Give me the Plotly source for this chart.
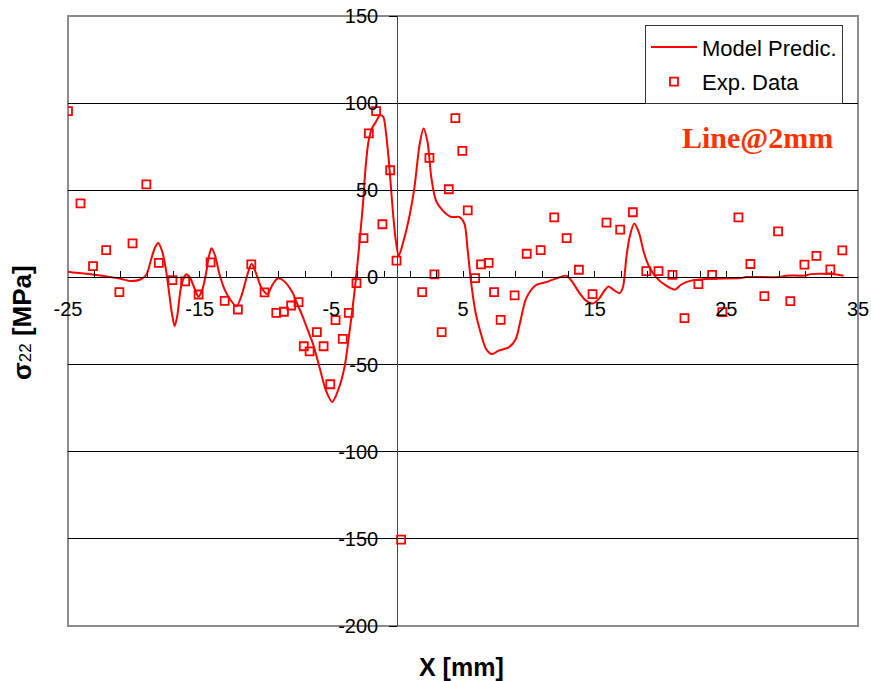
import plotly.graph_objects as go

# Model prediction of sigma_22 along the line 2 mm from the surface
MODEL_X = [-25.4, -25.0, -23.0, -21.0, -20.2, -19.5, -19.05, -18.7, -18.4, -18.15,
           -17.85, -17.55, -17.3, -17.1, -16.9, -16.7, -16.45, -16.2, -16.0, -15.75,
           -15.35, -15.1, -14.8, -14.5, -14.3, -14.1, -13.85, -13.5, -13.1, -12.7,
           -12.2, -11.8, -11.4, -11.05, -10.75, -10.3, -9.85, -9.45, -9.05, -8.6,
           -8.0, -7.6, -7.2, -6.8, -6.4, -5.9, -5.4, -4.93, -4.5, -4.0,
           -3.65, -3.3, -3.0, -2.8, -2.6, -2.4, -2.2, -1.95, -1.6, -1.3,
           -1.05, -0.85, -0.6, -0.35, -0.1, 0.12, 0.45, 0.9, 1.3, 1.7,
           2.0, 2.3, 2.6, 2.95, 3.45, 4.1, 4.7, 5.1, 5.35, 5.6,
           5.95, 6.35, 6.75, 7.2, 7.7, 8.5, 9.0, 9.3, 9.8, 10.5,
           11.3, 12.05, 12.85, 13.3, 13.8, 14.3, 14.85, 15.35, 15.75, 16.05,
           16.5, 16.9, 17.15, 17.4, 17.65, 18.0, 18.35, 18.75, 19.15, 19.65,
           20.4, 21.1, 21.55, 22.4, 23.7, 26.1, 26.5, 29.0, 29.5, 31.0,
           31.4, 33.0, 33.9]
MODEL_Y = [4.0, 3.3, 1.5, -0.8, -2.1, -1.2, 1.5, 10, 17, 19.8,
           15, 4, -10, -21, -28, -22, -7, 0, 1.8, 0,
           -7, -11, -7, 3, 12, 16.8, 13, 2, -7, -12.5,
           -16.5, -10, 1, 7.8, 3, -6, -9.5, -4, -0.5, -2,
           -8, -15, -22, -30, -38, -51.5, -65, -71.5, -65, -51.5,
           -33, -12, 9, 25, 42, 63, 77, 85, 89.5, 93,
           92, 83, 64, 40, 21, 12.5, 20, 34, 51, 76,
           85.5, 78, 57, 44, 38.5, 34.7, 34.7, 31, 16, -2,
           -20, -32, -41, -44, -42, -40, -35.5, -27, -12, -4.6,
           -2.7, -0.7, 1.0, -2.5, -8.4, -13, -15, -12, -7.5, -5.2,
           -7.5, -9, -5.5, 11, 23, 31, 26, 14, 6, 0.2,
           -4.6, -7, -4.2, -1.7, -0.8, -0.4, 0.2, 0.2, 1.0, 1.1,
           1.9, 1.9, 1.0]

# Measured values
EXP_X = [-25.0, -24.05, -23.1, -22.1, -21.1, -20.1, -19.05, -18.1, -17.07, -16.1,
         -15.08, -14.17, -13.1, -12.1, -11.08, -10.07, -9.18, -8.6, -8.05, -7.49,
         -7.09, -6.65, -6.1, -5.59, -5.08, -4.68, -4.13, -3.67, -3.09, -2.56,
         -2.15, -1.6, -1.12, -0.53, -0.05, 0.3, 1.9, 2.45, 2.83, 3.38,
         3.92, 4.42, 4.95, 5.36, 5.92, 6.37, 6.95, 7.36, 7.86, 8.92,
         9.84, 10.9, 11.93, 12.87, 13.8, 14.84, 15.9, 16.94, 17.9, 18.92,
         19.85, 20.91, 21.82, 22.88, 23.92, 24.7, 25.92, 26.83, 27.89, 28.93,
         29.86, 30.93, 31.84, 32.9, 33.81]
EXP_Y = [95.4, 42.5, 6.5, 15.7, -8.4, 19.5, 53.4, 8.4, -1.5, -2.3,
         -9.8, 8.6, -13.4, -18.4, 7.5, -8.6, -20.3, -19.7, -16.1, -14.2,
         -39.5, -42.4, -31.4, -39.5, -61.3, -24.5, -35.3, -20.3, -3.3, 22.6,
         82.6, 95.4, 30.5, 61.5, 9.6, -150.4, -8.4, 68.6, 1.7, -31.4,
         50.6, 91.4, 72.6, 38.5, -0.4, 7.5, 8.4, -8.4, -24.3, -10.3,
         13.6, 15.7, 34.5, 22.6, 4.4, -9.6, 31.4, 27.4, 37.4, 3.6,
         3.6, 1.5, -23.4, -3.8, 1.5, -19.9, 34.5, 7.7, -10.7, 26.4,
         -13.6, 7.3, 12.4, 4.6, 15.5]

X_TICKS = [-25, -15, -5, 5, 15, 25, 35]
Y_TICKS = [-200, -150, -100, -50, 0, 50, 100, 150]
X_RANGE = [-25, 35]
Y_RANGE = [-200, 150]

SANS = "Liberation Sans, Arial, sans-serif"
RED = "#FF0000"

fig = go.Figure()
fig.add_trace(go.Scatter(
    x=MODEL_X, y=MODEL_Y, mode="lines", name="Model Predic.",
    line=dict(color=RED, width=2, shape="spline", smoothing=0.8),
    legendgroup="a",
))
fig.add_trace(go.Scatter(
    x=EXP_X, y=EXP_Y, mode="markers", name="Exp. Data",
    marker=dict(symbol="square-open", size=8, color=RED, line=dict(width=1.8, color=RED)),
    legendgroup="b",
))

# the axes cross at the origin
x_cross = (0 - Y_RANGE[0]) / (Y_RANGE[1] - Y_RANGE[0])
y_cross = (0 - X_RANGE[0]) / (X_RANGE[1] - X_RANGE[0])

fig.update_layout(
    width=871, height=681,
    margin=dict(l=68, r=13, t=16, b=55, autoexpand=False),
    paper_bgcolor="white", plot_bgcolor="white",
    font=dict(family=SANS, size=20, color="black"),
    showlegend=True,
    legend=dict(
        x=0.981, y=0.985, xanchor="right", yanchor="top",
        bgcolor="white", bordercolor="#333333", borderwidth=1,
        font=dict(family=SANS, size=22, color="black"),
        tracegroupgap=3, itemwidth=46,
    ),
    xaxis=dict(
        range=X_RANGE, anchor="free", position=x_cross, automargin=False,
        tickvals=X_TICKS, ticktext=[str(v) for v in X_TICKS],
        ticks="inside", ticklen=6, tickcolor="black", tickwidth=1,
        minor=dict(dtick=2, tick0=-25, ticks="inside", ticklen=6,
                   tickcolor="black", showgrid=False),
        ticklabelstandoff=14,
        showgrid=False, zeroline=False,
        showline=True, linecolor="black", linewidth=1,
        tickfont=dict(family=SANS, size=20, color="black"),
    ),
    yaxis=dict(
        range=Y_RANGE, anchor="free", position=y_cross, automargin=False,
        tickvals=Y_TICKS, ticktext=[str(v) for v in Y_TICKS],
        ticks="outside", ticklen=8, tickcolor="black", tickwidth=1,
        ticklabelstandoff=7,
        showgrid=True, gridcolor="black", gridwidth=1,
        zeroline=False,
        showline=True, linecolor="#444444", linewidth=1,
        tickfont=dict(family=SANS, size=20, color="black"),
    ),
    shapes=[dict(
        type="rect", xref="paper", yref="paper", x0=0, x1=1, y0=0, y1=1,
        line=dict(color="#8c8c8c", width=2), layer="between",
    )],
    annotations=[
        dict(
            text="<b>X [mm]</b>", xref="paper", yref="paper",
            x=0.4975, y=-0.068, xanchor="center", yanchor="middle",
            showarrow=False, font=dict(family=SANS, size=25, color="black"),
        ),
        dict(
            text="<b>σ</b><span style='font-size:17px'>22</span><b> [MPa]</b>",
            xref="paper", yref="paper", x=-0.058, y=0.497,
            xanchor="center", yanchor="middle", textangle=-90,
            showarrow=False, font=dict(family=SANS, size=26, color="black"),
        ),
        dict(
            text="<b>Line@2mm</b>", xref="paper", yref="paper",
            x=0.873, y=0.801, xanchor="center", yanchor="middle",
            showarrow=False,
            font=dict(family="Liberation Serif, Times New Roman, serif", size=30, color="#FF3300"),
        ),
    ],
)

fig.write_html("out.html")
